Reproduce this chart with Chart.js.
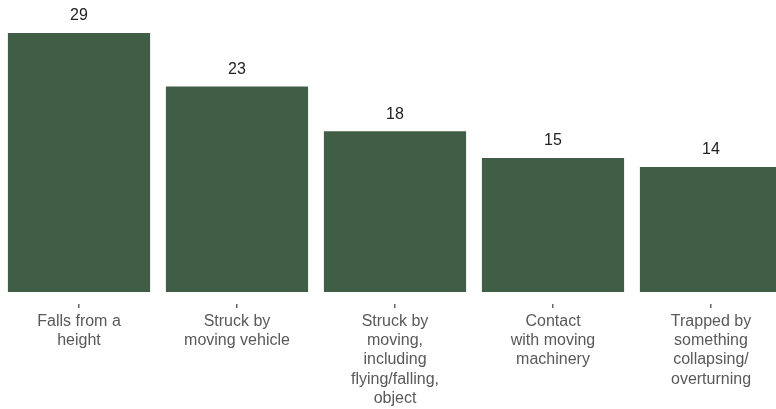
<!DOCTYPE html>
<html>
<head>
<meta charset="utf-8">
<script src="https://cdn.jsdelivr.net/npm/chart.js@4/dist/chart.umd.min.js"></script>
<style>
  html, body { margin: 0; padding: 0; background: #fff; overflow: hidden; }
  #wrap { width: 790px; height: 409px; }
</style>
</head>
<body>
<div id="wrap"><canvas id="chart" width="790" height="409"></canvas></div>
<script>
// categories and values
const categories = [
    ['Falls from a', 'height'],
    ['Struck by', 'moving vehicle'],
    ['Struck by', 'moving,', 'including', 'flying/falling,', 'object'],
    ['Contact', 'with moving', 'machinery'],
    ['Trapped by', 'something', 'collapsing/', 'overturning']
];
const fatalities = [29, 23, 18, 15, 14];

const fontFamily = '"Liberation Sans", Arial, sans-serif';

// draw value above each bar
const valueLabels = {
    id: 'valueLabels',
    afterDatasetsDraw(chart) {
        const ctx = chart.ctx;
        const meta = chart.getDatasetMeta(0);
        ctx.save();
        ctx.font = '16px ' + fontFamily;
        ctx.fillStyle = '#222222';
        ctx.textAlign = 'center';
        ctx.textBaseline = 'middle';
        meta.data.forEach(function(bar, i){
            ctx.fillText(fatalities[i], bar.x, bar.y - 17);
        });
        ctx.restore();
    }
};

const chart = document.querySelector('#chart').getContext('2d');

new Chart(chart, {
    type: 'bar',
    data: {
        labels: categories,
        datasets: [
            {
                data: fatalities,
                backgroundColor: '#3f5e45',
                borderWidth: 0,
                barPercentage: 0.9,
                categoryPercentage: 1.0
            }
        ]
    },
    options: {
        responsive: false,
        animation: false,
        devicePixelRatio: 1,
        layout: { padding: 0 },
        plugins: {
            legend: { display: false },
            tooltip: { enabled: false }
        },
        scales: {
            x: {
                grid: {
                    offset: false,
                    drawOnChartArea: false,
                    color: '#666666',
                    lineWidth: 1.5,
                    tickLength: 17,
                    tickBorderDash: [0, 12, 4, 60]
                },
                border: { display: false },
                ticks: {
                    color: '#595959',
                    padding: 3,
                    maxRotation: 0,
                    autoSkip: false,
                    font: { family: fontFamily, size: 16, lineHeight: 1.2 }
                },
                afterFit(scale) {
                    scale.height = 117;
                }
            },
            y: {
                display: false,
                min: 0,
                max: 32.7
            }
        }
    },
    plugins: [valueLabels]
});
</script>
</body>
</html>
